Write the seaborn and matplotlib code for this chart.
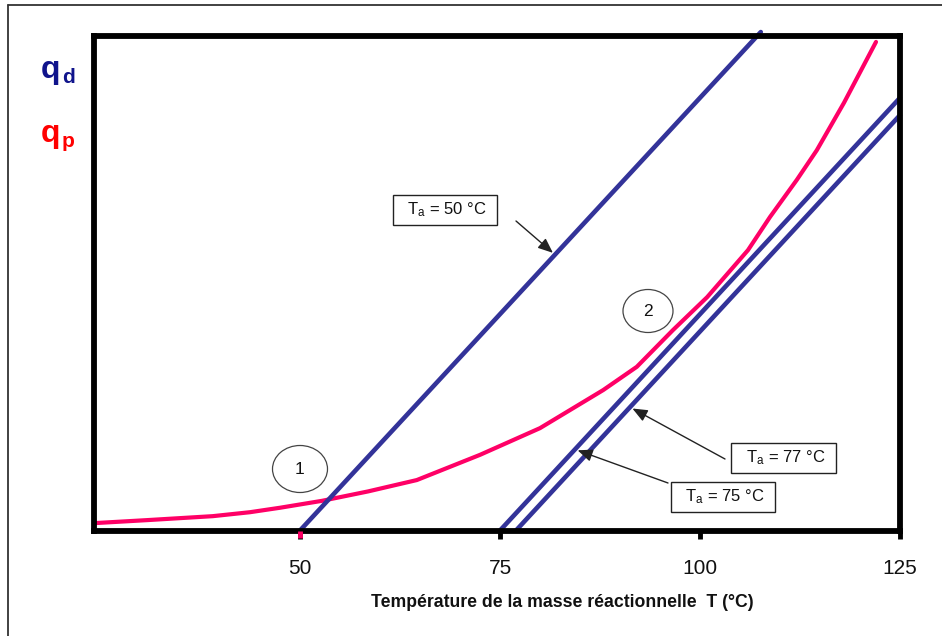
import numpy as np
import pandas as pd
import matplotlib
matplotlib.use("Agg")
import matplotlib.pyplot as plt
import seaborn as sns
from matplotlib.patches import Ellipse
from matplotlib.lines import Line2D

# Heat produced by the reaction, q_p, versus reaction-mass temperature
T_prod = [24.4, 30.9, 39.1, 43.75, 47.5, 52.75, 58.5, 64.6, 72.5, 80.0, 87.9,
          92.1, 96.6, 100.9, 106.0, 108.75, 112.1, 114.6, 118.0, 122.0]
q_prod = [1.5, 2.1, 2.9, 3.7, 4.6, 6.0, 7.9, 10.2, 15.3, 20.7, 28.4,
          33.1, 40.5, 47.2, 56.7, 63.4, 70.9, 76.9, 86.5, 98.8]

# Heat removed, q_d = k (T - Ta), for three ambient temperatures
Ta_values = [50, 75, 77]
q_removal_slope = 1.75
T_line_end = [107.6, 125.0, 125.0]

xticks = [50, 75, 100, 125]
x_label = "Température de la masse réactionnelle  T (°C)"

BLUE = "#333399"
PINK = "#FF0066"

sns.set_theme(style="white")
plt.rcParams["font.family"] = ["Liberation Sans", "DejaVu Sans"]
plt.rcParams["mathtext.fontset"] = "custom"
plt.rcParams["mathtext.rm"] = "Liberation Sans"

W, H = 942, 636
fig = plt.figure(figsize=(W / 100, H / 100), dpi=100)
ax_left, ax_right, ax_top, ax_bottom = 94, 900, 36, 530.5
ax = fig.add_axes([ax_left / W, 1 - ax_bottom / H,
                   (ax_right - ax_left) / W, (ax_bottom - ax_top) / H])
x0, x1, y0, y1 = 24.25, 125, 0, 100
ax.set_xlim(x0, x1)
ax.set_ylim(y0, y1)


def px(x, y):
    """Pixel position in the figure -> data coordinates."""
    T = x0 + (x - ax_left) / (ax_right - ax_left) * (x1 - x0)
    q = y0 + (ax_bottom - y) / (ax_bottom - ax_top) * (y1 - y0)
    return T, q


# production curve
prod = pd.DataFrame({"T": T_prod, "q": q_prod})
sns.lineplot(data=prod, x="T", y="q", ax=ax, color=PINK, lw=3.0,
             solid_capstyle="round", solid_joinstyle="round",
             clip_on=False, sort=False)

# removal lines
for Ta, Tend in zip(Ta_values, T_line_end):
    line = pd.DataFrame({"T": [Ta, Tend],
                         "q": [0.0, q_removal_slope * (Tend - Ta)]})
    sns.lineplot(data=line, x="T", y="q", ax=ax, color=BLUE, lw=3.3,
                 solid_capstyle="round", clip_on=False)

# frame / axes styling
for s in ax.spines.values():
    s.set_visible(True)
    s.set_color("black")
    s.set_linewidth(4.2)
ax.set_yticks([])
ax.set_xticks(xticks)
ax.set_xticklabels([str(t) for t in xticks], fontsize=15, color="#111111")
ax.tick_params(axis="x", direction="out", length=5.5, width=3.5,
               color="black", pad=15, bottom=True)
# pink tick where the production curve's reference temperature sits
tick_len = 7.5 / (ax_bottom - ax_top)
ax.add_line(Line2D([Ta_values[0], Ta_values[0]], [0, -tick_len], color=PINK, lw=3.5,
                   transform=ax.get_xaxis_transform(), clip_on=False,
                   solid_capstyle="butt", zorder=5))
ax.set_xlabel(x_label, fontsize=12.7, fontweight="bold", color="#111111")
ax.xaxis.set_label_coords((562 - ax_left) / (ax_right - ax_left),
                          (ax_bottom - 594) / (ax_bottom - ax_top))
ax.xaxis.label.set_va("top")
ax.set_ylabel("")


def label_box(text, cx, cy):
    T, q = px(cx, cy)
    ax.text(T, q, text, ha="center", va="center", fontsize=12, color="#111111",
            bbox=dict(boxstyle="square,pad=0.32", fc="white", ec="#222222", lw=1.0),
            zorder=5)


def arrow_to_line(Ta, tail, tip_x):
    T_tip = px(tip_x, 0)[0]
    q_tip = q_removal_slope * (T_tip - Ta)
    ax.annotate("", xy=(T_tip, q_tip), xytext=px(*tail),
                arrowprops=dict(arrowstyle="-|>,head_length=0.6,head_width=0.25",
                                mutation_scale=15, color="#222222", lw=1.0,
                                shrinkA=0, shrinkB=2), zorder=6)


label_box(r"  $\mathregular{T_a}$ = 50 °C  ", 445, 210)
label_box(r"  $\mathregular{T_a}$ = 77 °C  ", 783.5, 458)
label_box(r"  $\mathregular{T_a}$ = 75 °C  ", 723, 497)

arrow_to_line(50, (516, 221), 555)
arrow_to_line(77, (725, 459), 630)
arrow_to_line(75, (668, 483), 575)

# numbered operating points
for num, (cx, cy, w, h) in zip(["1", "2"], [(300, 469, 55, 47), (648, 311, 50, 43)]):
    Tc, qc = px(cx, cy)
    wT = w / (ax_right - ax_left) * (x1 - x0)
    hq = h / (ax_bottom - ax_top) * (y1 - y0)
    ax.add_patch(Ellipse((Tc, qc), wT, hq, fill=False, ec="#444444", lw=0.9, zorder=4))
    ax.text(Tc, qc, num, ha="center", va="center", fontsize=12.5, color="#111111")

# axis symbols q_d and q_p
fig.text(41 / W, 1 - 78 / H, "q", fontsize=23, fontweight="bold", color="#10148C",
         ha="left", va="baseline")
fig.text(62 / W, 1 - 83 / H, "d", fontsize=15, fontweight="bold", color="#10148C",
         ha="left", va="baseline")
fig.text(41 / W, 1 - 142 / H, "q", fontsize=23, fontweight="bold", color="#FF0000",
         ha="left", va="baseline")
fig.text(62 / W, 1 - 147 / H, "p", fontsize=15, fontweight="bold", color="#FF0000",
         ha="left", va="baseline")

# outer border
fig.add_artist(Line2D([8 / W, 1.0], [1 - 5 / H, 1 - 5 / H], color="#333333", lw=1.3))
fig.add_artist(Line2D([8 / W, 8 / W], [0.0, 1 - 5 / H], color="#333333", lw=1.3))

fig.savefig("out.png", dpi=100)
